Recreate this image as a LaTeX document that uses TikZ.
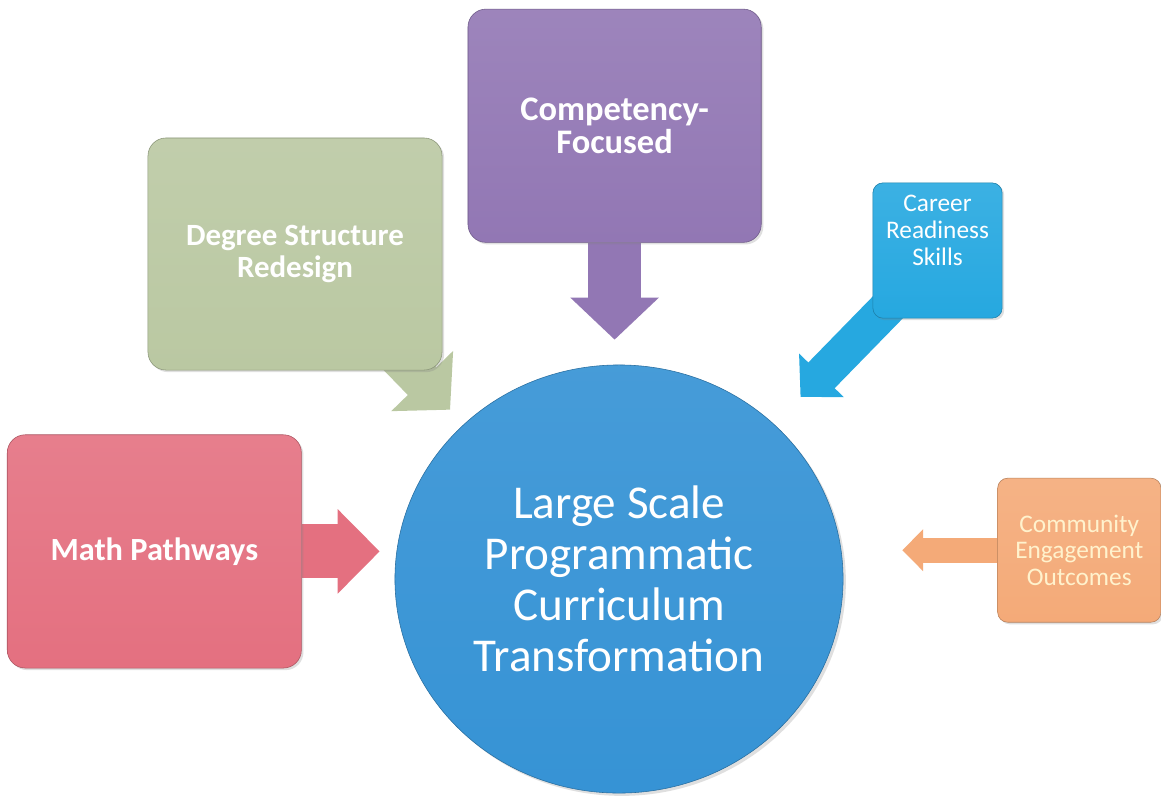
\documentclass[tikz,border=0pt]{standalone}
\usepackage{fontspec}
\setmainfont{Carlito}
\usetikzlibrary{shapes.geometric, arrows.meta, positioning, shadows, backgrounds}
\definecolor{mathred}{RGB}{228,112,128}
\definecolor{sage}{RGB}{186,200,162}
\definecolor{plum}{RGB}{146,119,180}
\definecolor{skyblue}{RGB}{38,168,224}
\definecolor{peach}{RGB}{244,170,120}
\definecolor{coreblue}{RGB}{54,147,213}
\definecolor{cream}{RGB}{255,242,205}

\begin{document}
\begin{tikzpicture}[
  x=0.025cm, y=-0.025cm,
  box/.style={rectangle, rounded corners=0.45cm, draw=#1!75!black, top color=#1!90!white, bottom color=#1, text=white, align=center, inner sep=4pt, font=\bfseries\fontsize{22}{23}\selectfont, drop shadow={opacity=0.25, shadow xshift=1.5pt, shadow yshift=-1.5pt}},
  small/.style={box=#1, rounded corners=0.25cm, font=\fontsize{18}{19}\selectfont},
  core/.style={ellipse, minimum width=11.2cm, minimum height=10.7cm, inner sep=0pt, draw=coreblue!75!black, top color=coreblue!92!white, bottom color=coreblue, text=white, align=center, font=\fontsize{33.5}{36.3}\selectfont, drop shadow={opacity=0.25, shadow xshift=2pt, shadow yshift=-2pt}},
  arr/.style n args={3}{line width=#1, -{Triangle[width=#2, length=#3]}}]
\useasboundingbox (0,0) rectangle (1161,797);
\node[core] (core) at (619,579) {Large Scale\\Programmatic\\Curriculum\\Transformation};
\node[box=mathred, font=\bfseries\fontsize{23}{24}\selectfont, minimum width=7.35cm, minimum height=5.83cm, left=2.325cm of core, yshift=0.69cm] (math) {Math Pathways};
\node[box=plum, font=\bfseries\fontsize{24.5}{24}\selectfont, minimum width=7.33cm, minimum height=5.83cm, above=3.05cm of core, xshift=-0.11cm] (comp) {Competency-\\Focused};
\node[box=sage, minimum width=7.35cm, minimum height=5.8cm] (deg) at (295,254) {Degree Structure\\Redesign};
\node[small=skyblue, minimum width=3.23cm, minimum height=3.38cm, text depth=1.0cm] (car) at (937.5,250.5) {Career\\Readiness\\Skills};
\node[small=peach, text=cream, minimum width=4.08cm, minimum height=3.6cm, right=3.85cm of core, yshift=0.72cm] (comm) {Community\\Engagement\\Outcomes};
\begin{scope}[on background layer]
\fill[white] (0,0) rectangle (1161,797);
\draw[arr={1.35cm}{2.05cm}{1.05cm}, mathred, shorten >=0.375cm] (math.east) -- (math.east -| core.west);
\draw[arr={1.33cm}{2.15cm}{1.05cm}, plum, shorten >=0.625cm] (comp.south) -- (comp.south |- core.north);
\draw[arr={1.0cm}{2.1cm}{1.0cm}, sage, shorten >=0.5cm] ([shift={(-52,-22)}]deg.south east) -- (core.135);
\draw[arr={0.92cm}{1.52cm}{0.75cm}, skyblue, shorten >=0.95cm] ([shift={(22,-18)}]car.south west) -- (core.45);
\draw[arr={0.62cm}{1.02cm}{0.52cm}, peach, shorten >=1.475cm] (comm.west) -- (comm.west -| core.east);
\end{scope}
\end{tikzpicture}
\end{document}
